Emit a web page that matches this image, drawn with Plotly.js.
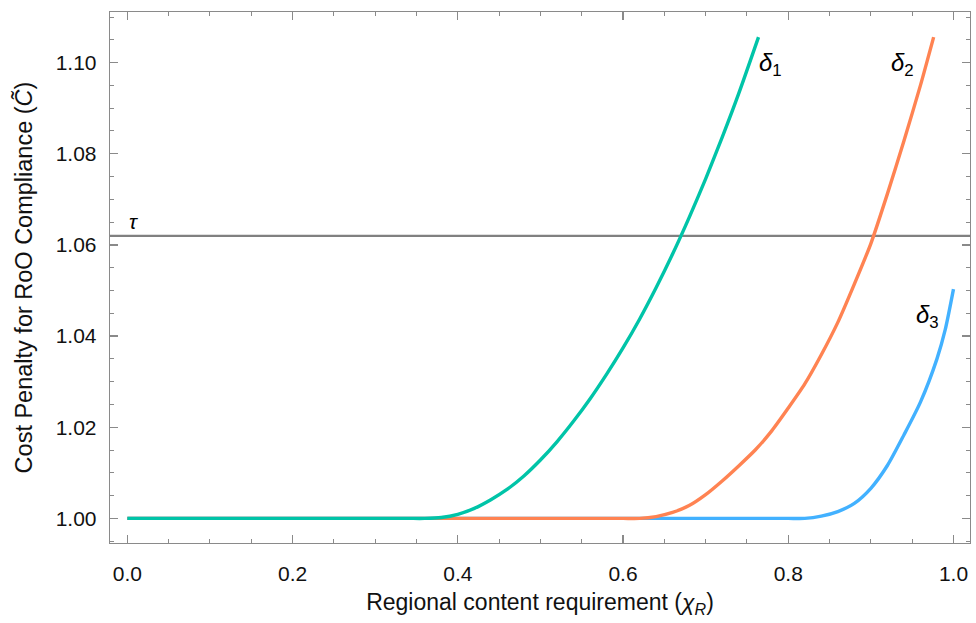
<!DOCTYPE html>
<html>
<head>
<meta charset="utf-8">
<script src="https://cdn.plot.ly/plotly-3.0.1.min.js"></script>
<style>html,body{margin:0;padding:0;background:#fff;}#chart{width:976px;height:623px;}</style>
</head>
<body>
<div id="chart"></div>
<script>
// ---- data ----
const tau = 1.062;

const delta1X = [0.0, 0.30, 0.34, 0.36, 0.38, 0.40, 0.42, 0.44, 0.46, 0.48, 0.50, 0.52, 0.54, 0.56, 0.58, 0.60, 0.62, 0.64, 0.66, 0.68, 0.70, 0.72, 0.74, 0.764];
const delta1Y = [1.0, 1.0, 1.0, 1.0000, 1.0002, 1.0009, 1.0022, 1.0041, 1.0064, 1.0093, 1.0128, 1.0168, 1.0213, 1.0262, 1.0316, 1.0374, 1.0437, 1.0506, 1.0580, 1.0660, 1.0745, 1.0836, 1.0932, 1.1056];

const delta2X = [0.0, 0.56, 0.60, 0.62, 0.64, 0.66, 0.68, 0.70, 0.72, 0.74, 0.76, 0.78, 0.80, 0.82, 0.84, 0.86, 0.88, 0.90, 0.92, 0.94, 0.96, 0.976];
const delta2Y = [1.0, 1.0, 1.0, 1.0000, 1.0004, 1.0013, 1.0028, 1.0052, 1.0082, 1.0115, 1.0150, 1.0192, 1.0242, 1.0295, 1.0359, 1.0430, 1.0514, 1.0603, 1.0712, 1.0828, 1.0950, 1.1056];

const delta3X = [0.0, 0.76, 0.80, 0.82, 0.84, 0.86, 0.88, 0.90, 0.92, 0.94, 0.96, 0.98, 0.99, 1.0];
const delta3Y = [1.0, 1.0, 1.0, 1.0000, 1.0005, 1.0015, 1.0033, 1.0066, 1.0116, 1.0183, 1.0255, 1.0350, 1.0414, 1.0503];

const seriesNames = ['δ<sub>1</sub>', 'δ<sub>2</sub>', 'δ<sub>3</sub>'];
const labelX = [0.778, 0.938, 0.968];
const labelY = [1.0996, 1.0996, 1.0442];
const tauLabel = 'τ';

const xTickVals = [0.0, 0.2, 0.4, 0.6, 0.8, 1.0];
const yTickVals = [1.00, 1.02, 1.04, 1.06, 1.08, 1.10];

// ---- styling ----
const colors = ['#00C4A8', '#FF8352', '#42B1FF'];
const frameColor = '#8a8a8a';
const font = 'Liberation Sans, Arial, sans-serif';

const lineStyle = c => ({color: c, width: 3.4, shape: 'spline', smoothing: 0.7});
const traces = [
  {x: delta3X, y: delta3Y, mode: 'lines', line: lineStyle(colors[2]), hoverinfo: 'skip'},
  {x: delta2X, y: delta2Y, mode: 'lines', line: lineStyle(colors[1]), hoverinfo: 'skip'},
  {x: delta1X, y: delta1Y, mode: 'lines', line: lineStyle(colors[0]), hoverinfo: 'skip'}
];

const annotations = seriesNames.map((t, i) => ({
  x: labelX[i], y: labelY[i], xref: 'x', yref: 'y', text: '<i>' + t.replace('<sub>', '</i><sub>'),
  showarrow: false, font: {family: font, size: 24, color: '#000'}
}));
annotations.push({x: 0.007, y: tau, xref: 'x', yref: 'y', yanchor: 'bottom', yshift: 1,
  text: '<i>' + tauLabel + '</i>', showarrow: false, font: {family: font, size: 21, color: '#000'}});

const axisCommon = {
  showgrid: false, zeroline: false, showline: true, linecolor: frameColor, linewidth: 1.3,
  mirror: 'allticks', ticks: 'inside', ticklen: 8, tickwidth: 1.2, tickcolor: frameColor,
  tickfont: {family: font, size: 21, color: '#111'}
};

const layout = {
  width: 976, height: 623,
  margin: {l: 110, r: 6, t: 12, b: 80},
  paper_bgcolor: '#fff', plot_bgcolor: '#fff',
  showlegend: false,
  xaxis: Object.assign({}, axisCommon, {
    range: [-0.021, 1.020], tickvals: xTickVals, tickformat: '.1f', ticklabelstandoff: 11,
    minor: {dtick: 0.05, tick0: 0, ticks: 'inside', ticklen: 4, tickcolor: frameColor, tickwidth: 1},
    title: {text: 'Regional content requirement (<i>χ</i><sub><i>R</i></sub>)', font: {family: font, size: 23, color: '#111'}, standoff: 10}
  }),
  yaxis: Object.assign({}, axisCommon, {
    range: [0.9946, 1.1111], tickvals: yTickVals, tickformat: '.2f', ticklabelstandoff: 8,
    minor: {dtick: 0.005, tick0: 1.0, ticks: 'inside', ticklen: 4, tickcolor: frameColor, tickwidth: 1},
    title: {text: 'Cost Penalty for RoO Compliance (<i>C̃</i>)', font: {family: font, size: 23.5, color: '#111'}, standoff: 16}
  }),
  shapes: [{type: 'line', xref: 'paper', x0: 0, x1: 1, yref: 'y', y0: tau, y1: tau,
    line: {color: '#808080', width: 2.2}, layer: 'below'}],
  annotations: annotations
};

Plotly.newPlot('chart', traces, layout, {staticPlot: true, displayModeBar: false});
</script>
</body>
</html>
